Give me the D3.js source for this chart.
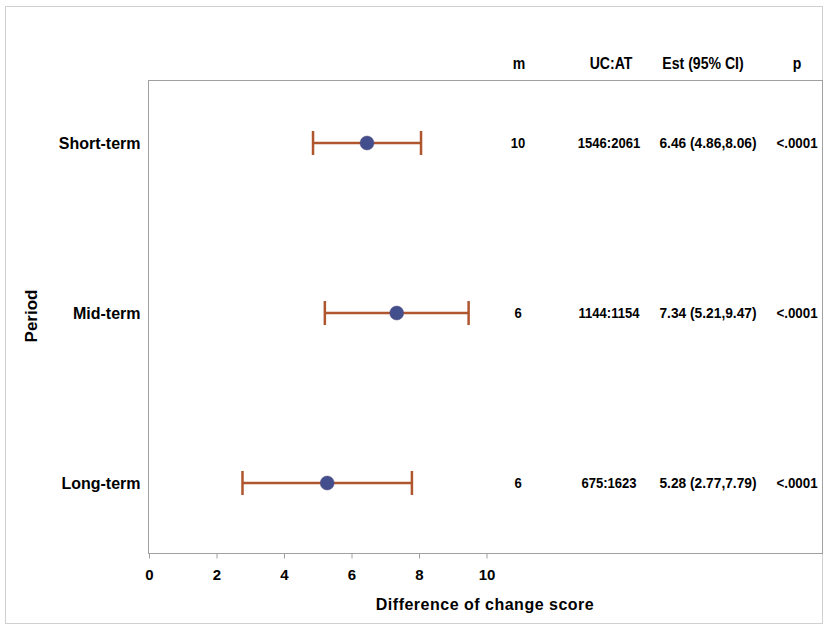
<!DOCTYPE html>
<html>
<head>
<meta charset="utf-8">
<script src="https://cdn.jsdelivr.net/npm/d3@7"></script>
<style>
  html, body { margin: 0; padding: 0; background: #fff; }
  svg { display: block; }
  text { font-family: Arial, "Liberation Sans", sans-serif; font-weight: bold; fill: #000; }
</style>
</head>
<body>
<script>
const periods = ["Short-term", "Mid-term", "Long-term"];
const estimates = [6.46, 7.34, 5.28];
const lowerCI = [4.86, 5.21, 2.77];
const upperCI = [8.06, 9.47, 7.79];
const mCol = ["10", "6", "6"];
const ucatCol = ["1546:2061", "1144:1154", "675:1623"];
const estCol = ["6.46 (4.86,8.06)", "7.34 (5.21,9.47)", "5.28 (2.77,7.79)"];
const pCol = ["<.0001", "<.0001", "<.0001"];
const colHeaders = ["m", "UC:AT", "Est (95% CI)", "p"];
const xTicks = [0, 2, 4, 6, 8, 10];

const W = 824, H = 626;
const svg = d3.select("body").append("svg").attr("width", W).attr("height", H);

// outer border
svg.append("rect").attr("x", 5.5).attr("y", 6.5).attr("width", 817).attr("height", 617)
  .attr("fill", "none").attr("stroke", "#d0d0d0").attr("stroke-width", 1);

const frame = { left: 148.5, top: 80.5, right: 822.5, bottom: 553.5 };

const x = d3.scaleLinear().domain([0, 10]).range([149, 486.5]);
const y = d3.scalePoint().domain(periods).range([143, 483]);

// plot frame
svg.append("rect").attr("x", frame.left).attr("y", frame.top)
  .attr("width", frame.right - frame.left).attr("height", frame.bottom - frame.top)
  .attr("fill", "none").attr("stroke", "#a0a0a0").attr("stroke-width", 1);

// x axis
const xAxis = d3.axisBottom(x).tickValues(xTicks).tickSize(5).tickPadding(11).tickFormat(d3.format("d"));
const gx = svg.append("g").attr("transform", `translate(0,${frame.bottom})`).call(xAxis);
gx.select(".domain").remove();
gx.selectAll(".tick line").attr("stroke", "#a0a0a0");
gx.selectAll(".tick text").style("font-size", "15px").style("font-family", "Arial, 'Liberation Sans', sans-serif").style("font-weight", "bold").attr("fill", "#000");

svg.append("text").attr("x", 485).attr("y", 610).attr("text-anchor", "middle")
  .style("font-size", "16px").style("letter-spacing", "0.5px").text("Difference of change score");

// y axis labels
const yAxis = d3.axisLeft(y).tickSize(0).tickPadding(8);
const gy = svg.append("g").attr("transform", `translate(${frame.left},0)`).call(yAxis);
gy.select(".domain").remove();
gy.selectAll(".tick text").style("font-size", "16px").style("font-family", "Arial, 'Liberation Sans', sans-serif").style("font-weight", "bold").attr("fill", "#000");

svg.append("text").attr("transform", "translate(37,316) rotate(-90)").attr("text-anchor", "middle")
  .style("font-size", "17px").text("Period");

// error bars
const barColor = "#b0562e";
const rows = periods.map((p, i) => ({ p, est: estimates[i], lo: lowerCI[i], hi: upperCI[i] }));
const g = svg.append("g");
g.selectAll("line.ci").data(rows).join("line").attr("class", "ci")
  .attr("x1", d => x(d.lo)).attr("x2", d => x(d.hi))
  .attr("y1", d => y(d.p)).attr("y2", d => y(d.p))
  .attr("stroke", barColor).attr("stroke-width", 2.5);
g.selectAll("line.capl").data(rows).join("line").attr("class", "capl")
  .attr("x1", d => x(d.lo)).attr("x2", d => x(d.lo))
  .attr("y1", d => y(d.p) - 12).attr("y2", d => y(d.p) + 12)
  .attr("stroke", barColor).attr("stroke-width", 2.5);
g.selectAll("line.caph").data(rows).join("line").attr("class", "caph")
  .attr("x1", d => x(d.hi)).attr("x2", d => x(d.hi))
  .attr("y1", d => y(d.p) - 12).attr("y2", d => y(d.p) + 12)
  .attr("stroke", barColor).attr("stroke-width", 2.5);
g.selectAll("circle").data(rows).join("circle")
  .attr("cx", d => x(d.est)).attr("cy", d => y(d.p)).attr("r", 7)
  .attr("fill", "#434f8c").attr("stroke", "#5a4f80").attr("stroke-width", 0.5);

// table columns (condensed look via horizontal scaling)
const colX = [519, 611, 703, 797];
svg.selectAll("text.hdr").data(colHeaders).join("text").attr("class", "hdr")
  .attr("transform", (d, i) => `translate(${colX[i]},69) scale(0.88,1)`).attr("text-anchor", "middle")
  .style("font-size", "16px").text(d => d);

const cols = [mCol, ucatCol, estCol, pCol];
const colCX = [518, 609, 708, 797];
const colScale = [0.9, 0.9, 0.95, 0.92];
cols.forEach((col, ci) => {
  svg.selectAll(null).data(col).join("text")
    .attr("transform", (d, i) => `translate(${colCX[ci]},${y(periods[i]) + 5}) scale(${colScale[ci]},1)`)
    .attr("text-anchor", "middle")
    .style("font-size", "14.5px").text(d => d);
});
</script>
</body>
</html>
